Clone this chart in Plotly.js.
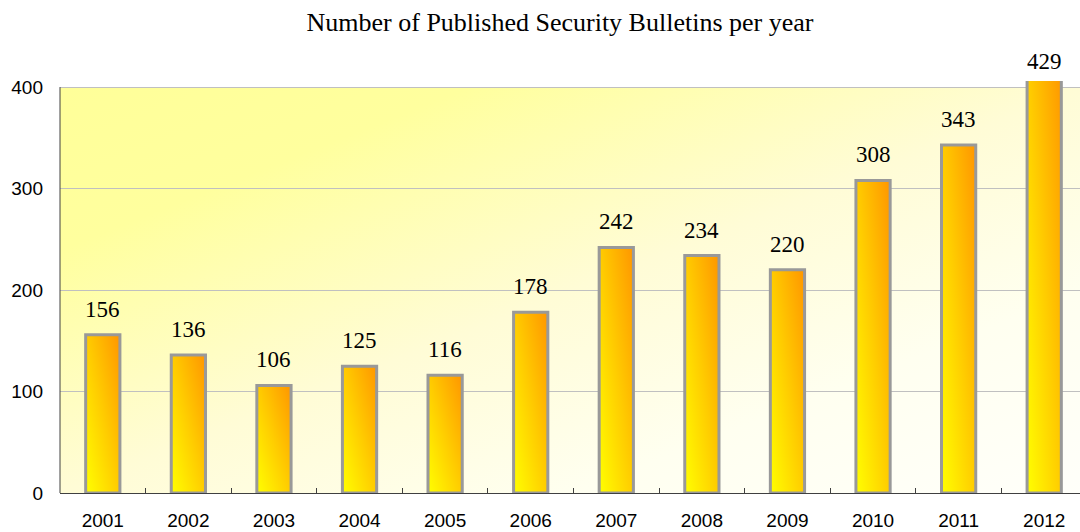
<!DOCTYPE html>
<html>
<head>
<meta charset="utf-8">
<script src="https://cdn.plot.ly/plotly-3.0.1.min.js"></script>
<style>
  html, body { margin: 0; padding: 0; overflow: hidden; background: #fff; }
  #chart { width: 1088px; height: 532px; }
</style>
</head>
<body>
<div id="chart"></div>
<script>
const years = ['2001','2002','2003','2004','2005','2006','2007','2008','2009','2010','2011','2012'];
const bulletins = [156, 136, 106, 125, 116, 178, 242, 234, 220, 308, 343, 429];
const yTicks = [0, 100, 200, 300, 400];
const chartTitle = 'Number of Published Security Bulletins per year';

const yTop = yTicks[yTicks.length - 1];

const trace = {
  type: 'bar',
  x: years,
  y: bulletins,
  marker: { color: '#FFCC00', line: { color: '#999999', width: 3 } },
  hoverinfo: 'x+y'
};

const annotations = years.map((yr, i) => ({
  x: i,
  y: Math.min(bulletins[i], yTop),
  xref: 'x', yref: 'y',
  text: String(bulletins[i]),
  showarrow: false,
  yanchor: 'bottom',
  yshift: 11,
  font: { family: '"Liberation Serif", "Times New Roman", serif', size: 23, color: '#000' }
}));

const layout = {
  width: 1088,
  height: 532,
  margin: { l: 60, r: 1, t: 81, b: 39 },
  paper_bgcolor: '#ffffff',
  plot_bgcolor: 'rgba(0,0,0,0)',
  showlegend: false,
  bargap: 0.6,
  title: {
    text: chartTitle,
    x: 560 / 1088, xanchor: 'center',
    y: 1 - 22 / 532, yanchor: 'middle',
    font: { family: '"Liberation Serif", "Times New Roman", serif', size: 26, color: '#000' }
  },
  xaxis: {
    type: 'category',
    range: [-0.5, years.length - 0.5],
    autorange: false,
    showline: true, linecolor: '#404040', linewidth: 1,
    ticks: 'inside', tickson: 'boundaries', ticklen: 5, tickcolor: '#404040',
    ticklabelstandoff: 10,
    showgrid: false,
    tickfont: { family: '"Liberation Sans", Arial, sans-serif', size: 19, color: '#000' }
  },
  yaxis: {
    range: [0, 406],
    autorange: false,
    tickvals: yTicks,
    showline: false,
    ticks: '',
    showgrid: true, gridcolor: '#C0C0C0', gridwidth: 1,
    zeroline: false,
    ticklabelstandoff: 16,
    tickfont: { family: '"Liberation Sans", Arial, sans-serif', size: 19, color: '#000' }
  },
  shapes: [
    { type: 'rect', xref: 'paper', yref: 'y', x0: 0, x1: 1, y0: 0, y1: yTop,
      fillcolor: '#FFFFCC', line: { width: 0 }, layer: 'below' },
    { type: 'line', xref: 'paper', yref: 'y', x0: 0, x1: 0, y0: 0, y1: yTop,
      line: { color: '#404040', width: 1 }, layer: 'above' }
  ],
  annotations: annotations
};

Plotly.newPlot('chart', [trace], layout, { displayModeBar: false, staticPlot: true }).then(gd => {
  const svg = gd.querySelector('svg.main-svg');
  const NS = 'http://www.w3.org/2000/svg';
  let defs = svg.querySelector('defs');
  if (!defs) { defs = document.createElementNS(NS, 'defs'); svg.insertBefore(defs, svg.firstChild); }
  function grad(id, x1, y1, x2, y2, stops) {
    const g = document.createElementNS(NS, 'linearGradient');
    g.setAttribute('id', id);
    g.setAttribute('x1', x1); g.setAttribute('y1', y1);
    g.setAttribute('x2', x2); g.setAttribute('y2', y2);
    stops.forEach(s => {
      const st = document.createElementNS(NS, 'stop');
      st.setAttribute('offset', s[0]);
      st.setAttribute('stop-color', s[1]);
      g.appendChild(st);
    });
    defs.appendChild(g);
  }
  grad('barGrad', '0', '1', '1', '0', [[0, '#FFFF00'], [0.5, '#FFCC00'], [1, '#FF9600']]);
  grad('bgGrad', '0', '0', '1', '1', [[0, '#FFFF99'], [0.2, '#FFFF9E'], [0.5, '#FFFCD6'], [0.75, '#FFFFF0'], [1, '#FFFFFA']]);
  gd.querySelectorAll('.barlayer .point path').forEach(p => { p.style.fill = 'url(#barGrad)'; });
  const bgShape = gd.querySelector('.layer-below .shapelayer path');
  if (bgShape) bgShape.style.fill = 'url(#bgGrad)';
});
</script>
</body>
</html>
